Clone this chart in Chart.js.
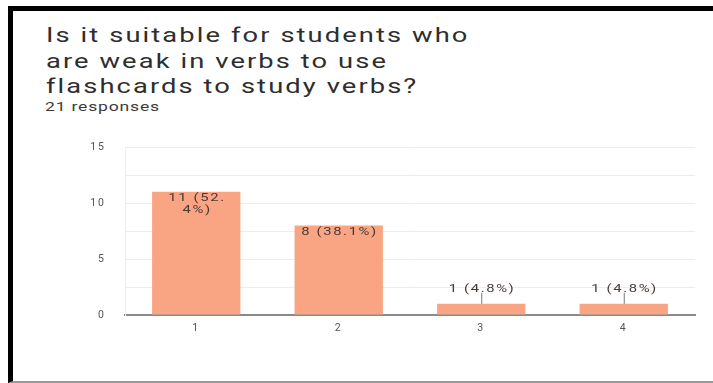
<!DOCTYPE html>
<html>
<head>
<meta charset="utf-8">
<script src="https://cdn.jsdelivr.net/npm/chart.js@4.4.0/dist/chart.umd.min.js"></script>
<style>
  html, body { margin: 0; padding: 0; background: #fff; }
  body { width: 713px; height: 383px; position: relative; overflow: hidden; font-family: Roboto, Arial, sans-serif; }
  .frame { position: absolute; left: 8px; top: 6px; right: 0; bottom: 0;
           border-top: 5px solid #000; border-left: 5px solid #000; border-bottom: 2px solid #999; }
  .title { position: absolute; left: 46px; top: 23px; font-size: 19.5px; line-height: 25.5px;
           color: #2e2e2e; letter-spacing: 1.5px; white-space: nowrap;
           transform: scaleX(1.4); transform-origin: 0 0; }
  .sub { position: absolute; left: 45px; top: 100px; font-size: 13px; line-height: 13px; color: #3c3c3c;
         letter-spacing: 0.6px; white-space: nowrap; transform: scaleX(1.35); transform-origin: 0 0; }
  #chartBox { position: absolute; left: 0; top: 0; width: 713px; height: 383px; }
</style>
</head>
<body>
<div class="frame"></div>
<div class="title">Is it suitable for students who<br>are weak in verbs to use<br>flashcards to study verbs?</div>
<div class="sub">21 responses</div>
<div id="chartBox"><canvas id="answerChart"></canvas></div>
<script>
const categories = ['1', '2', '3', '4'];
const responseCounts = [11, 8, 1, 1];
const valueLabels = [['11 (52.', '4%)'], ['8 (38.1%)'], ['1 (4.8%)'], ['1 (4.8%)']];
const yTicks = [0, 5, 10, 15];

// wide spaced text like the screenshot
const spacing = {
    id: 'spacing',
    beforeDraw(chart) {
        chart.ctx.letterSpacing = '2px';
    }
};

// draws the count (percent) text on top of each bar
const barLabels = {
    id: 'barLabels',
    afterDatasetsDraw(chart) {
        let ctx = chart.ctx;
        let meta = chart.getDatasetMeta(0);
        ctx.save();
        ctx.font = '11px Roboto, Arial, sans-serif';
        ctx.letterSpacing = '1.2px';
        ctx.fillStyle = '#4a3a34';
        ctx.textAlign = 'center';
        ctx.textBaseline = 'middle';
        meta.data.forEach((bar, i) => {
            let lines = valueLabels[i];
            let h = bar.base - bar.y;
            let put = (text, x, y) => {
                ctx.save();
                ctx.translate(x + 0.8, y);
                ctx.scale(1.35, 1);
                ctx.fillText(text, 0, 0);
                ctx.restore();
            };
            if (h > 20) {
                lines.forEach((line, j) => {
                    put(line, bar.x, bar.y + 6.5 + j * 12);
                });
            } else {
                ctx.strokeStyle = '#777';
                ctx.lineWidth = 1;
                ctx.beginPath();
                ctx.moveTo(bar.x + 0.5, bar.y);
                ctx.lineTo(bar.x + 0.5, bar.y - 11);
                ctx.stroke();
                put(lines[0], bar.x, bar.y - 15);
            }
        });
        ctx.restore();
    }
};

let ctx = document.getElementById('answerChart').getContext('2d');
let answerChart = new Chart(ctx, {
    type: 'bar',
    data: {
        labels: categories,
        datasets: [{
            data: responseCounts,
            backgroundColor: '#f9a583',
            barPercentage: 0.62,
            categoryPercentage: 1
        }]
    },
    options: {
        responsive: true,
        maintainAspectRatio: false,
        animation: false,
        layout: { padding: { left: 60, right: 18, top: 147, bottom: 38 } },
        plugins: {
            legend: { display: false },
            tooltip: { enabled: false }
        },
        scales: {
            x: {
                grid: { display: false, drawTicks: false },
                border: { display: true, color: '#8a8a8a', width: 2 },
                ticks: { color: '#555', padding: 7, font: { size: 10.5, family: 'Roboto, Arial, sans-serif' } },
                afterFit: (scale) => { scale.height = 30; }
            },
            y: {
                min: 0,
                max: 15,
                ticks: {
                    stepSize: 2.5,
                    padding: 19,
                    color: '#555',
                    font: { size: 10.5, family: 'Roboto, Arial, sans-serif' },
                    callback: (value) => yTicks.includes(value) ? value : ''
                },
                grid: { color: '#ececec', drawTicks: false },
                border: { display: true, color: '#eeeeee' },
                afterFit: (scale) => { scale.width = 65; }
            }
        }
    },
    plugins: [spacing, barLabels]
});
</script>
</body>
</html>
